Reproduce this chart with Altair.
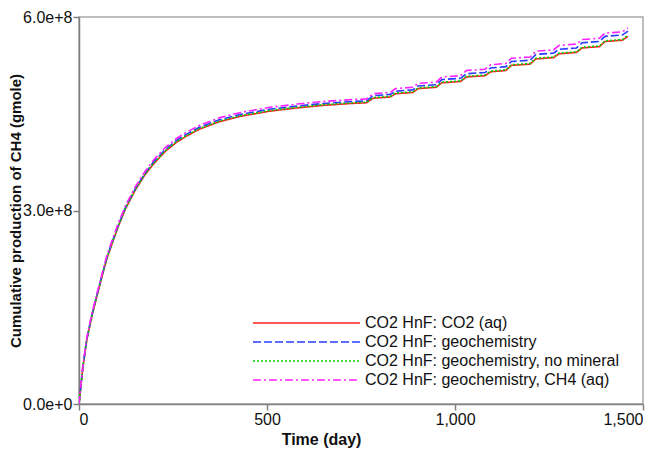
import altair as alt
import pandas as pd

days = [0, 10, 21, 35, 48, 60, 74, 90, 105, 124, 150, 175, 198, 230, 260, 285, 320, 375, 430,
        507, 580, 650, 726, 765, 782, 828, 842, 888, 902, 950, 965, 1015, 1030, 1080, 1095,
        1135, 1150, 1200, 1215, 1262, 1277, 1323, 1338, 1384, 1399, 1445, 1460]

# values in units of 1e8 gmole
red = [0.00, 0.55, 1.00, 1.38, 1.68, 1.95, 2.25, 2.52, 2.76, 3.03, 3.32, 3.55, 3.72, 3.92, 4.06,
       4.15, 4.26, 4.38, 4.46, 4.54, 4.59, 4.63, 4.66, 4.67, 4.74, 4.76, 4.81, 4.83, 4.89, 4.91,
       4.98, 5.00, 5.07, 5.09, 5.15, 5.17, 5.25, 5.27, 5.35, 5.37, 5.43, 5.45, 5.52, 5.54, 5.62,
       5.64, 5.70]
green = [0.00, 0.56, 1.01, 1.39, 1.69, 1.96, 2.26, 2.53, 2.77, 3.04, 3.33, 3.56, 3.73, 3.93, 4.07,
         4.16, 4.27, 4.39, 4.47, 4.55, 4.60, 4.64, 4.67, 4.68, 4.75, 4.77, 4.82, 4.84, 4.90, 4.92,
         4.99, 5.01, 5.08, 5.10, 5.16, 5.18, 5.26, 5.28, 5.36, 5.38, 5.44, 5.46, 5.53, 5.55, 5.63,
         5.65, 5.72]
blue = [0.00, 0.56, 1.02, 1.40, 1.70, 1.97, 2.27, 2.54, 2.78, 3.05, 3.34, 3.57, 3.75, 3.95, 4.09,
        4.18, 4.29, 4.41, 4.49, 4.57, 4.62, 4.66, 4.69, 4.70, 4.78, 4.80, 4.85, 4.87, 4.93, 4.95,
        5.03, 5.05, 5.12, 5.14, 5.21, 5.23, 5.31, 5.33, 5.42, 5.44, 5.50, 5.52, 5.60, 5.62, 5.70,
        5.72, 5.78]
magenta = [0.00, 0.58, 1.04, 1.42, 1.72, 1.99, 2.30, 2.57, 2.81, 3.08, 3.37, 3.60, 3.78, 3.98, 4.12,
           4.21, 4.32, 4.44, 4.52, 4.60, 4.65, 4.69, 4.72, 4.73, 4.81, 4.83, 4.89, 4.91, 4.97, 4.99,
           5.07, 5.09, 5.17, 5.19, 5.26, 5.28, 5.36, 5.38, 5.47, 5.49, 5.56, 5.58, 5.65, 5.67, 5.75,
           5.77, 5.83]

names = ["CO2 HnF: CO2 (aq)", "CO2 HnF: geochemistry",
         "CO2 HnF: geochemistry, no mineral", "CO2 HnF: geochemistry, CH4 (aq)"]
colors = ["#ff2020", "#2a3cff", "#00d000", "#ff20ff"]
dashes = [[1, 0], [8, 3], [2, 2], [8, 3, 2, 3]]

x_ticks = [0, 500, 1000, 1500]
y_ticks = [0, 3e8, 6e8]

rows = []
for name, vals in zip(names, [red, blue, green, magenta]):
    for t, v in zip(days, vals):
        rows.append({"series": name, "day": t, "value": v * 1e8})
df = pd.DataFrame(rows)

FONT = "Liberation Sans"

lines = alt.Chart(df).mark_line(strokeWidth=1.6, clip=True).encode(
    x=alt.X("day:Q", scale=alt.Scale(domain=[0, 1500], nice=False),
            axis=alt.Axis(values=x_ticks, format=",d", title="Time (day)", grid=False,
                          titleX=242, titleY=35, titleBaseline="middle", titleFontSize=16)),
    y=alt.Y("value:Q", scale=alt.Scale(domain=[0, 6e8], nice=False),
            axis=alt.Axis(values=y_ticks, format=".1e", grid=False,
                          title="Cumulative production of CH4 (gmole)",
                          titleX=-64, titleBaseline="middle", titleFontSize=15)),
    color=alt.Color("series:N", scale=alt.Scale(domain=names, range=colors), legend=None),
    strokeDash=alt.StrokeDash("series:N", scale=alt.Scale(domain=names, range=dashes), legend=None),
    order=alt.Order("day:Q"),
)

layers = [lines]
legend_df = pd.DataFrame({"series": names})
for i, (name, col, dash) in enumerate(zip(names, colors, dashes)):
    ypix = 306 + i * 19
    sub = legend_df[legend_df["series"] == name]
    layers.append(
        alt.Chart(sub).mark_rule(color=col, strokeWidth=1.6, strokeDash=dash).encode(
            x=alt.value(174), x2=alt.value(281), y=alt.value(ypix))
    )
    layers.append(
        alt.Chart(sub).mark_text(align="left", baseline="middle", font=FONT, fontSize=16,
                                 color="#111111").encode(
            x=alt.value(286), y=alt.value(ypix), text="series:N")
    )

chart = alt.layer(*layers).properties(
    width=564, height=387,
    background="white",
    autosize=alt.AutoSizeParams(type="none"),
    padding={"left": 71, "top": 9, "right": 13, "bottom": 50},
).configure_view(
    stroke="#a8a8a8", strokeWidth=1.5
).configure_axis(
    domainColor="#808080", domainWidth=1.5, tickColor="#808080", tickWidth=1.5,
    tickSize=6, labelPadding=1, labelFont=FONT, labelFontSize=16, labelColor="#111111",
    titleFont=FONT, titleFontWeight="bold", titleColor="#111111",
)

chart.save("out.html", embed_options={"renderer": "svg", "actions": False})
